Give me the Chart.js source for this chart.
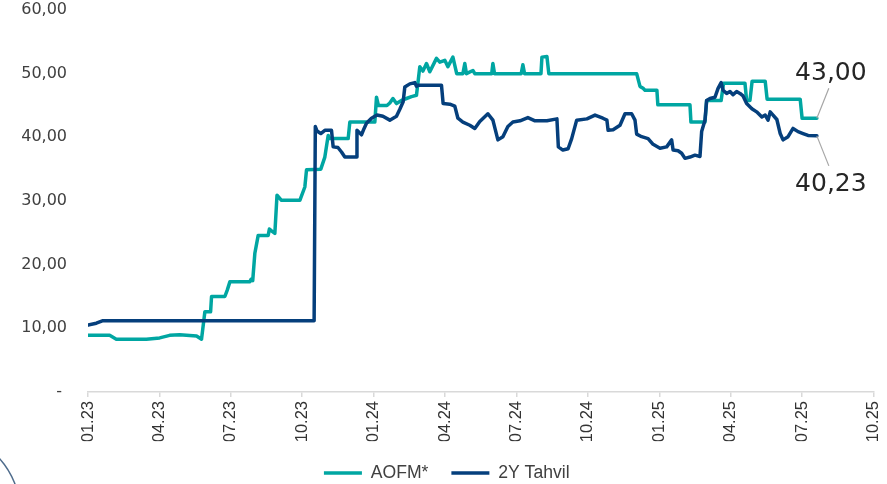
<!DOCTYPE html>
<html>
<head>
<meta charset="utf-8">
<script src="https://cdn.jsdelivr.net/npm/chart.js@4.4.1/dist/chart.umd.min.js"></script>
<style>
html,body{margin:0;padding:0;background:#fff;}
#wrap{width:887px;height:484px;position:relative;}
</style>
</head>
<body>
<div id="wrap"><canvas id="c"></canvas></div>
<script>
// x values are months since 01.2023
const xTickLabels = ['01.23','04.23','07.23','10.23','01.24','04.24','07.24','10.24','01.25','04.25','07.25','10.25'];
const yTickLabels = ['- ','10,00','20,00','30,00','40,00','50,00','60,00'];
const seriesNames = ['AOFM*', '2Y Tahvil'];

const aofmX = [0, 0.91, 1.19, 2.45, 3.01, 3.43, 3.85, 4.56, 4.77, 4.91,
  5.15, 5.19, 5.75, 5.85, 5.96, 6.80, 6.85, 6.92, 7.01, 7.15,
  7.57, 7.62, 7.71, 7.85, 7.94, 8.13, 8.90, 9.11, 9.18, 9.78,
  9.95, 10.09, 10.16, 10.93, 11.00, 12.05, 12.12, 12.20, 12.56, 12.68,
  12.81, 12.96, 13.17, 13.38, 13.59, 13.80, 13.94, 14.07, 14.22, 14.36,
  14.64, 14.78, 14.99, 15.12, 15.33, 15.49, 15.75, 15.83, 15.90, 16.17,
  16.25, 16.96, 17.01, 17.08, 18.20, 18.27, 18.34, 19.03, 19.07, 19.28,
  19.36, 23.05, 23.19, 23.32, 23.40, 23.90, 23.94, 25.29, 25.33, 25.92,
  25.99, 26.60, 26.70, 27.60, 27.67, 27.81, 27.90, 28.45, 28.53, 29.92,
  30.00, 30.62];
const aofmY = [8.9, 8.9, 8.3, 8.3, 8.5, 8.9, 9.0, 8.8, 8.3, 12.6,
  12.6, 15.0, 15.0, 16.0, 17.3, 17.3, 17.7, 17.5, 21.8, 24.6,
  24.6, 25.6, 25.3, 24.9, 30.9, 30.1, 30.1, 32.2, 34.9, 35.0,
  36.9, 40.3, 39.8, 39.8, 42.4, 42.4, 46.3, 45.0, 45.0, 45.4,
  46.1, 45.3, 45.8, 46.1, 46.4, 46.6, 51.1, 50.4, 51.6, 50.3,
  52.4, 51.8, 52.1, 51.1, 52.6, 50.0, 50.0, 51.6, 50.0, 50.5,
  50.0, 50.0, 51.6, 50.0, 50.0, 51.4, 50.0, 50.0, 52.6, 52.7,
  50.0, 50.0, 48.0, 47.7, 47.4, 47.4, 45.1, 45.1, 42.4, 42.4,
  45.8, 45.8, 48.5, 48.5, 45.8, 45.8, 48.8, 48.8, 46.0, 46.0,
  43.0, 43.0];

const tahvilX = [0, 0.35, 0.63, 9.50, 9.55, 9.62, 9.78, 9.95, 10.23, 10.30,
  10.50, 10.65, 10.79, 11.26, 11.30, 11.49, 11.60, 11.70, 11.91, 12.14,
  12.39, 12.68, 12.96, 13.10, 13.24, 13.31, 13.52, 13.73, 13.80, 13.86,
  14.85, 14.92, 15.20, 15.41, 15.54, 15.75, 16.04, 16.25, 16.46, 16.80,
  17.01, 17.22, 17.43, 17.64, 17.85, 18.15, 18.48, 18.78, 19.28, 19.70,
  19.76, 19.95, 20.17, 20.32, 20.53, 20.96, 21.30, 21.63, 21.80, 21.85,
  22.06, 22.35, 22.56, 22.84, 22.98, 23.05, 23.26, 23.53, 23.74, 24.03,
  24.31, 24.52, 24.58, 24.79, 24.94, 25.08, 25.29, 25.50, 25.71, 25.78,
  25.92, 25.99, 26.13, 26.34, 26.47, 26.60, 26.68, 26.83, 26.97, 27.10,
  27.25, 27.39, 27.52, 27.67, 27.89, 28.09, 28.31, 28.45, 28.57, 28.66,
  28.78, 28.94, 29.08, 29.20, 29.41, 29.62, 29.83, 30.04, 30.25, 30.62];
const tahvilY = [10.5, 10.8, 11.2, 11.2, 41.7, 41.0, 40.6, 41.1, 41.1, 38.5,
  38.4, 37.7, 36.9, 36.9, 41.1, 40.4, 41.4, 42.2, 43.0, 43.5,
  43.3, 42.7, 43.3, 44.4, 45.6, 47.9, 48.4, 48.6, 48.0, 48.2,
  48.2, 45.3, 45.2, 44.9, 43.0, 42.4, 41.9, 41.4, 42.5, 43.7,
  42.7, 39.6, 40.1, 41.7, 42.4, 42.6, 43.1, 42.6, 42.6, 42.9,
  38.5, 38.0, 38.2, 39.8, 42.7, 42.9, 43.5, 43.0, 42.7, 41.1,
  41.2, 41.9, 43.7, 43.7, 42.7, 40.5, 40.1, 39.8, 38.9, 38.3,
  38.5, 39.6, 38.0, 37.9, 37.5, 36.7, 36.9, 37.2, 37.0, 40.9,
  42.7, 45.8, 46.1, 46.3, 47.7, 48.6, 47.4, 46.9, 47.2, 46.7,
  47.2, 46.9, 46.5, 45.3, 44.5, 44.0, 43.2, 43.5, 42.7, 44.0,
  43.5, 42.8, 40.6, 39.6, 40.1, 41.4, 40.9, 40.6, 40.3, 40.23];

const TEAL = '#00A6A2';
const NAVY = '#053F7C';

function pts(xs, ys) { return xs.map((x, i) => ({ x: x, y: ys[i] })); }

const endLabels = {
  id: 'endLabels',
  afterDatasetsDraw(chart) {
    const ctx = chart.ctx;
    const items = [{ i: 1, dir: -1, off: 45 }, { i: 0, dir: 1, off: 49 }];
    ctx.save();
    items.forEach(({ i, dir, off }) => {
      const meta = chart.getDatasetMeta(i);
      const ds = chart.data.datasets[i];
      const last = meta.data[meta.data.length - 1];
      const v = ds.data[ds.data.length - 1].y;
      const px = last.x, py = last.y;
      ctx.strokeStyle = '#a6a6a6';
      ctx.lineWidth = 1.2;
      ctx.beginPath();
      ctx.moveTo(px, py);
      ctx.lineTo(px + 12, py + dir * 30);
      ctx.stroke();
      ctx.fillStyle = '#262626';
      ctx.font = '25px "DejaVu Sans"';
      ctx.textAlign = 'center';
      ctx.textBaseline = 'middle';
      ctx.fillText(v.toFixed(2).replace('.', ','), px + 14, py + dir * off);
    });
    ctx.restore();
  }
};

const decoArc = {
  id: 'decoArc',
  afterDraw(chart) {
    const ctx = chart.ctx;
    ctx.save();
    ctx.strokeStyle = '#4f6c8c';
    ctx.lineWidth = 1.5;
    ctx.beginPath();
    ctx.arc(-60, 512, 80, 0, Math.PI * 2);
    ctx.stroke();
    ctx.restore();
  }
};

new Chart(document.getElementById('c'), {
  type: 'line',
  data: {
    datasets: [
      { label: seriesNames[1], data: pts(tahvilX, tahvilY), borderColor: NAVY, backgroundColor: NAVY,
        borderWidth: 3.5, pointRadius: 0, pointHoverRadius: 0, pointStyle: 'line', tension: 0,
        borderJoinStyle: 'round', borderCapStyle: 'round', fill: false },
      { label: seriesNames[0], data: pts(aofmX, aofmY), borderColor: TEAL, backgroundColor: TEAL,
        borderWidth: 3.5, pointRadius: 0, pointHoverRadius: 0, pointStyle: 'line', tension: 0,
        borderJoinStyle: 'round', borderCapStyle: 'round', fill: false }
    ]
  },
  options: {
    responsive: true,
    maintainAspectRatio: false,
    animation: false,
    layout: { padding: { left: 20, right: 13.5, top: 10, bottom: 0 } },
    scales: {
      x: {
        type: 'linear', min: 0, max: 33,
        afterFit: (s) => { s.height = 49.2; s.paddingRight = 0; s.paddingLeft = 0; },
        grid: { drawOnChartArea: false, drawTicks: true, tickLength: 5, color: '#d9d9d9', lineWidth: 1.5 },
        border: { display: true, color: '#d9d9d9', width: 1.5 },
        ticks: {
          stepSize: 3, autoSkip: false, minRotation: 90, maxRotation: 90, padding: 4,
          color: '#333333', font: { family: '"Liberation Sans", Arial, sans-serif', size: 16.5 },
          callback: (v) => xTickLabels[Math.round(v / 3)]
        }
      },
      y: {
        min: 0, max: 60,
        afterFit: (s) => { s.width = 68; s.paddingTop = 0; s.paddingBottom = 0; },
        grid: { display: false, drawTicks: false },
        border: { display: false },
        ticks: {
          stepSize: 10, padding: 21, color: '#404040',
          font: { family: '"DejaVu Sans", sans-serif', size: 16 },
          callback: (v) => yTickLabels[Math.round(v / 10)]
        }
      }
    },
    plugins: {
      legend: {
        position: 'bottom', reverse: true, maxHeight: 42.8,
        labels: {
          usePointStyle: true, pointStyleWidth: 38, padding: 23, color: '#404040',
          font: { family: '"Liberation Sans", Arial, sans-serif', size: 17.6 }
        }
      },
      tooltip: { enabled: false }
    }
  },
  plugins: [endLabels, decoArc]
});
</script>
</body>
</html>
